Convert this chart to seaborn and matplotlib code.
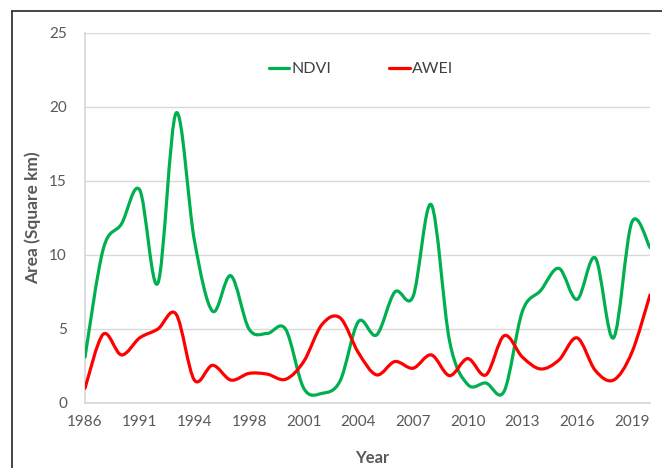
import matplotlib
matplotlib.use("Agg")
import matplotlib.pyplot as plt
from matplotlib import ticker
from matplotlib.lines import Line2D
from matplotlib.patches import PathPatch
from matplotlib.path import Path
import numpy as np
import pandas as pd
import seaborn as sns

# category axis (not evenly spaced years), only every 3rd label is shown
years = [1986, 1987, 1989, 1991, 1992, 1993, 1994, 1995, 1997, 1998, 1999, 2000,
         2001, 2002, 2003, 2004, 2005, 2006, 2007, 2008, 2009, 2010, 2011, 2012,
         2013, 2014, 2015, 2016, 2017, 2018, 2019, 2020]

ndvi = [3.1, 10.4, 12.1, 14.4, 8.1, 19.6, 11.0, 6.2, 8.6, 5.0, 4.7, 5.0,
        1.0, 0.65, 1.5, 5.5, 4.6, 7.5, 7.2, 13.4, 4.2, 1.25, 1.35, 0.8,
        6.2, 7.6, 9.1, 7.0, 9.8, 4.4, 12.2, 10.5]

awei = [1.0, 4.65, 3.25, 4.4, 5.0, 6.0, 1.55, 2.55, 1.55, 2.0, 1.95, 1.6,
        2.8, 5.3, 5.75, 3.4, 1.9, 2.8, 2.35, 3.25, 1.85, 3.0, 1.9, 4.55,
        3.1, 2.3, 2.9, 4.4, 2.2, 1.55, 3.4, 7.3]

series_names = ["NDVI", "AWEI"]
series_colors = {"NDVI": "#00B050", "AWEI": "#FF0000"}

GRID = "#d9d9d9"
TEXT = "#595959"


def smooth_path(x, y):
    # Excel style smoothed line: one cubic bezier per segment, catmull-rom tangents
    pts = np.column_stack([x, y])
    n = len(pts)
    verts = [pts[0]]
    codes = [Path.MOVETO]
    for i in range(n - 1):
        p0 = pts[i - 1] if i > 0 else pts[i]
        p1, p2 = pts[i], pts[i + 1]
        p3 = pts[i + 2] if i + 2 < n else pts[i + 1]
        verts += [p1 + (p2 - p0) / 6, p2 - (p3 - p1) / 6, p2]
        codes += [Path.CURVE4] * 3
    return Path(verts, codes)


df = pd.DataFrame({"pos": np.arange(len(years)), "NDVI": ndvi, "AWEI": awei})
long_df = df.melt(id_vars="pos", value_vars=series_names, var_name="index", value_name="area")

sns.set_style("white")
plt.rcParams["font.family"] = ["Lato", "DejaVu Sans"]

fig = plt.figure(figsize=(6.62, 4.68), dpi=100)
ax = fig.add_axes([85 / 662, 1 - 403 / 468, 565 / 662, 370 / 468])

sns.lineplot(data=long_df, x="pos", y="area", hue="index", palette=series_colors,
             linewidth=2.3, legend=False, ax=ax)

# replace the straight polylines by smoothed curves through the same points
for line in list(ax.lines):
    xy = line.get_xydata()
    ax.add_patch(PathPatch(smooth_path(xy[:, 0], xy[:, 1]), fill=False,
                           edgecolor=line.get_color(), linewidth=line.get_linewidth(),
                           capstyle="round", joinstyle="round", zorder=3))
    line.remove()

ax.set_xlim(0, len(years) - 1)
ax.set_ylim(0, 25)

ax.set_xticks(np.arange(0, len(years), 3))
ax.set_xticklabels([str(y) for y in years[::3]])
ax.xaxis.set_minor_locator(ticker.FixedLocator(np.arange(0.5, len(years) - 1, 1)))
ax.yaxis.set_major_locator(ticker.MultipleLocator(5))
ax.yaxis.set_minor_locator(ticker.MultipleLocator(1))

ax.tick_params(axis="x", which="major", length=0, pad=9, labelsize=11, labelcolor=TEXT)
ax.tick_params(axis="x", which="minor", length=4, width=1, color=GRID, direction="out")
ax.tick_params(axis="y", which="both", length=4, width=1, color=GRID, direction="out",
               labelsize=11, labelcolor=TEXT, pad=9)

ax.grid(axis="y", which="major", color=GRID, linewidth=1)
ax.set_axisbelow(True)
for side in ["top", "right"]:
    ax.spines[side].set_visible(False)
for side in ["left", "bottom"]:
    ax.spines[side].set_color(GRID)
    ax.spines[side].set_linewidth(1.3)

ax.set_xlabel("Year", fontsize=12, fontweight="bold", color=TEXT, va="center")
ax.xaxis.set_label_coords(0.508, -0.149)
ax.set_ylabel("Area (Square km)", fontsize=12.5, fontweight="bold", color=TEXT, va="center")
ax.yaxis.set_label_coords(-0.092, 0.5)

handles = [Line2D([0], [0], color=series_colors[n], lw=2.3) for n in series_names]
leg = ax.legend(handles, series_names, loc="center", bbox_to_anchor=(0.4885, 0.9027),
                ncol=2, frameon=False, fontsize=11.5, handlelength=1.3,
                handletextpad=0.15, columnspacing=3.6)
for t in leg.get_texts():
    t.set_color("#404040")

# outer chart border (only left and top edges are inside the picture)
fig.add_artist(Line2D([12 / 662, 12 / 662], [0, 1 - 11 / 468], transform=fig.transFigure,
                      color="#262626", lw=1.2))
fig.add_artist(Line2D([12 / 662, 1], [1 - 11 / 468, 1 - 11 / 468], transform=fig.transFigure,
                      color="#262626", lw=1.2))

fig.savefig("out.png", dpi=100)
